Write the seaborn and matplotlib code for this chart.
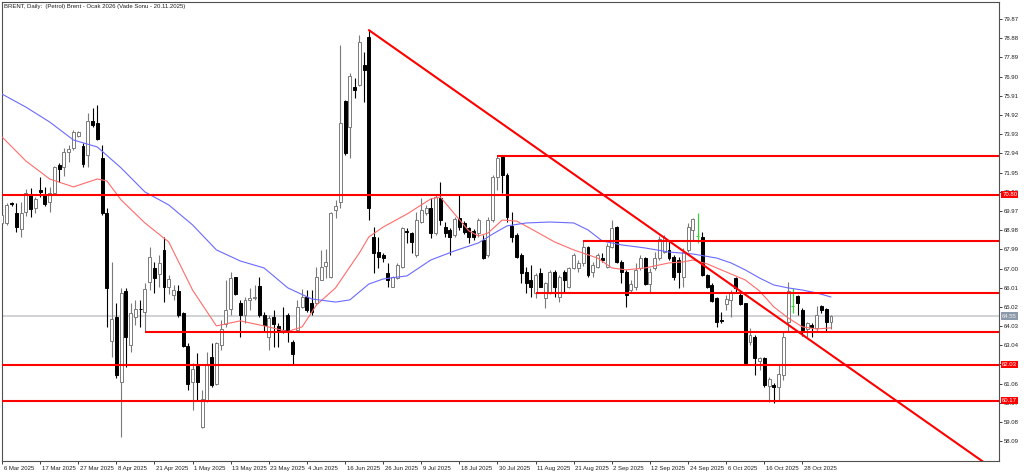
import matplotlib
matplotlib.use("Agg")
import matplotlib.pyplot as plt
import matplotlib.transforms as mtransforms
import numpy as np
import seaborn as sns

sns.set_theme(style="white")
plt.rcParams['font.family'] = ['Liberation Sans', 'DejaVu Sans']

# daily Brent candles, bar 0 = 6 Mar 2025
opens = [69.35, 69.35, 70.36, 69.87, 69.04, 69.92, 70.84, 70.12, 71.05, 70.84,
         70.43, 70.90, 72.34, 72.24, 73.01, 73.22, 73.84, 73.32, 72.86, 74.61,
         74.51, 72.70, 69.87, 63.26, 64.50, 61.15, 65.84, 63.06, 64.50, 64.93,
         64.76, 66.31, 67.03, 66.72, 67.96, 66.05, 65.63, 65.84, 64.71, 63.01,
         61.15, 61.97, 58.83, 60.22, 62.44, 61.05, 63.06, 64.14, 64.91, 66.56,
         65.22, 64.61, 65.40, 65.46, 66.10, 64.61, 63.47, 64.50, 64.04, 63.83,
         64.61, 63.21, 63.83, 65.02, 65.53, 65.22, 65.22, 66.41, 67.13, 66.56,
         70.02, 70.43, 75.64, 74.30, 76.38, 76.47, 77.50, 78.96, 68.64, 67.87,
         67.70, 66.77, 66.06, 66.51, 67.08, 68.92, 68.83, 67.70, 69.41, 69.87,
         70.12, 68.83, 70.64, 69.14, 68.99, 68.73, 69.61, 69.35, 69.09, 68.94,
         68.83, 68.47, 67.70, 69.50, 71.72, 72.75, 71.82, 69.19, 68.73, 67.70,
         66.82, 66.41, 65.74, 66.77, 65.48, 65.74, 66.82, 65.53, 66.82, 66.05,
         67.03, 67.03, 67.29, 68.11, 66.82, 67.08, 67.54, 67.08, 68.11, 69.14,
         67.34, 66.82, 65.89, 66.05, 67.03, 67.54, 66.20, 67.03, 67.54, 67.85,
         67.96, 67.60, 67.44, 66.56, 67.96, 68.99, 68.68, 68.63, 66.67, 66.15,
         65.48, 64.35, 65.17, 65.38, 66.51, 65.64, 65.22, 63.21, 63.47, 62.23,
         62.39, 60.94, 61.00, 60.89, 61.51, 64.24, 65.07, 65.58, 64.86, 63.88,
         64.09, 63.93, 65.07, 64.91, 64.24]
highs = [70.28, 70.38, 70.44, 70.38, 70.43, 71.10, 71.15, 70.69, 71.72, 71.21,
         71.21, 72.29, 72.44, 73.22, 73.37, 74.14, 74.09, 73.48, 75.02, 75.28,
         75.43, 73.37, 70.12, 67.34, 65.22, 66.00, 66.00, 65.22, 65.38, 65.38,
         66.26, 68.11, 67.34, 67.70, 68.63, 66.67, 66.15, 66.15, 64.76, 63.16,
         62.13, 62.64, 60.74, 62.70, 63.16, 63.21, 64.35, 66.41, 66.82, 66.56,
         65.38, 65.53, 65.99, 66.15, 66.56, 64.76, 64.61, 64.86, 64.19, 65.02,
         64.71, 63.32, 65.38, 65.95, 65.89, 65.89, 67.08, 67.96, 68.01, 69.92,
         70.54, 78.53, 75.69, 77.08, 76.83, 79.05, 78.18, 79.30, 69.16, 68.64,
         67.80, 67.29, 66.62, 67.29, 69.14, 69.09, 68.88, 69.92, 70.64, 70.28,
         70.64, 70.79, 71.46, 69.40, 69.09, 69.66, 70.79, 69.45, 69.14, 69.04,
         69.61, 68.73, 69.66, 71.82, 72.80, 72.80, 71.93, 69.92, 68.83, 67.80,
         67.08, 67.18, 66.77, 67.03, 66.31, 66.93, 66.93, 66.67, 66.93, 67.08,
         67.80, 67.44, 68.47, 68.16, 67.34, 67.80, 67.80, 68.32, 69.50, 69.19,
         67.44, 66.93, 66.41, 67.29, 67.70, 67.60, 67.03, 67.85, 68.68, 68.73,
         68.47, 67.70, 67.60, 68.06, 69.35, 69.61, 69.87, 68.88, 66.72, 66.26,
         65.53, 64.76, 65.64, 65.89, 66.56, 65.79, 65.22, 63.93, 63.57, 62.44,
         62.44, 61.41, 61.10, 62.03, 63.73, 66.31, 66.00, 65.64, 64.97, 64.24,
         64.19, 65.07, 65.12, 64.97, 64.61]
lows = [69.19, 69.25, 70.23, 68.88, 68.63, 69.71, 69.66, 69.87, 70.69, 70.23,
        69.92, 70.90, 71.46, 71.77, 72.49, 73.11, 73.78, 72.24, 72.24, 74.30,
        73.63, 69.76, 63.99, 62.44, 61.36, 58.31, 61.92, 62.70, 64.09, 63.99,
        63.73, 65.89, 65.74, 66.05, 65.27, 65.69, 65.38, 64.50, 62.95, 60.74,
        59.70, 60.22, 58.78, 60.12, 60.89, 61.00, 62.80, 63.99, 64.61, 65.64,
        63.47, 64.19, 64.86, 65.38, 64.50, 63.73, 62.80, 62.95, 62.95, 63.68,
        63.21, 62.03, 63.78, 64.97, 64.76, 64.61, 65.12, 66.41, 66.51, 66.51,
        69.61, 70.12, 72.86, 72.70, 75.80, 76.41, 75.60, 69.50, 66.77, 67.03,
        67.34, 66.05, 66.05, 66.46, 67.03, 68.32, 67.80, 67.60, 69.35, 69.76,
        68.58, 68.73, 69.25, 68.63, 67.70, 68.63, 68.99, 68.78, 68.32, 68.47,
        68.63, 67.49, 67.60, 69.40, 71.05, 70.90, 69.40, 68.37, 67.54, 66.26,
        65.74, 65.53, 65.48, 66.05, 64.97, 65.69, 65.53, 65.27, 65.79, 66.00,
        66.98, 66.82, 67.13, 66.56, 66.56, 67.03, 67.34, 67.03, 68.06, 67.29,
        66.26, 65.02, 65.74, 65.89, 66.93, 66.15, 65.74, 66.93, 67.44, 67.80,
        67.44, 66.41, 66.00, 66.05, 67.85, 68.47, 68.32, 66.62, 66.00, 65.27,
        63.99, 64.19, 64.86, 64.50, 65.74, 65.12, 62.08, 63.06, 61.51, 61.77,
        60.89, 60.12, 60.07, 60.22, 61.25, 63.78, 64.71, 64.61, 63.52, 63.47,
        63.47, 63.78, 64.71, 63.78, 63.88]
closes = [69.76, 70.28, 70.31, 69.14, 69.87, 70.90, 70.07, 70.59, 70.95, 70.33,
          70.90, 72.24, 72.14, 73.01, 73.17, 74.04, 74.04, 72.39, 74.61, 74.40,
          73.68, 69.87, 66.00, 64.40, 61.51, 65.74, 63.47, 64.71, 64.91, 64.89,
          65.95, 67.60, 66.51, 67.29, 66.05, 66.46, 65.89, 64.61, 63.01, 61.05,
          61.82, 61.15, 60.27, 62.03, 61.00, 63.16, 63.88, 64.86, 66.51, 65.69,
          64.61, 65.38, 65.46, 65.51, 64.61, 64.09, 64.45, 64.14, 63.78, 63.73,
          63.73, 62.59, 65.02, 65.53, 64.86, 64.76, 66.56, 67.08, 67.34, 69.87,
          70.23, 74.51, 72.96, 76.93, 76.21, 78.70, 77.24, 70.12, 67.79, 67.58,
          67.54, 66.41, 66.58, 67.18, 69.09, 68.87, 68.37, 69.50, 70.02, 70.12,
          68.83, 70.69, 69.50, 68.83, 68.63, 69.56, 69.14, 68.88, 68.63, 68.63,
          69.50, 67.54, 69.50, 71.72, 72.70, 71.82, 69.66, 68.63, 67.60, 66.77,
          66.26, 66.05, 66.67, 66.05, 66.26, 66.82, 66.05, 66.56, 66.41, 67.03,
          67.70, 67.29, 68.11, 66.67, 67.18, 67.70, 67.44, 68.16, 69.09, 67.34,
          66.82, 65.63, 66.20, 66.93, 67.54, 66.20, 66.82, 67.54, 68.52, 68.58,
          67.54, 66.56, 66.82, 67.85, 69.14, 69.56, 68.68, 66.67, 66.05, 65.33,
          64.24, 64.30, 65.43, 65.74, 66.00, 65.17, 62.13, 63.57, 62.39, 62.39,
          61.00, 61.30, 60.89, 61.56, 63.47, 65.84, 65.07, 65.22, 63.83, 64.19,
          63.99, 64.61, 64.86, 64.24, 64.55]

# moving averages at selected bars
fast_ma_bars = [0, 5, 10, 15, 20, 22, 25, 30, 35, 40, 45, 50, 55, 60, 63, 66, 70, 75, 77,
                80, 85, 90, 92, 95, 98, 100, 102, 105, 108, 110, 113, 116, 120, 125,
                128, 131, 135, 140, 143, 145, 148, 150, 153, 156, 159, 162, 165, 168,
                171, 174]
fast_ma = [73.79, 72.55, 71.62, 71.21, 71.62, 71.52, 70.54, 69.35, 68.37, 65.89, 64.04,
           64.30, 64.04, 63.75, 63.99, 65.12, 66.00, 67.80, 68.63, 69.14, 69.81, 70.59,
           70.69, 69.81, 68.94, 68.68, 68.83, 69.50, 69.45, 69.19, 68.78, 68.37, 67.96,
           67.54, 67.03, 66.93, 67.03, 67.29, 67.34, 67.44, 67.24, 67.03, 66.72, 66.41,
           65.84, 65.02, 64.45, 63.99, 63.88, 63.94]
slow_ma_bars = [0, 5, 10, 15, 20, 25, 30, 35, 40, 45, 50, 55, 60, 65, 70, 73, 77, 80, 85,
                90, 95, 100, 103, 106, 110, 115, 120, 123, 126, 130, 135, 140, 145, 150,
                153, 156, 159, 162, 165, 168, 171, 174]
slow_ma = [76.00, 75.33, 74.56, 73.63, 73.27, 72.19, 70.95, 70.28, 69.25, 67.96, 67.39,
           67.03, 66.00, 65.43, 65.27, 65.38, 66.20, 66.46, 66.62, 67.44, 67.91, 68.32,
           68.78, 69.20, 69.35, 69.40, 69.35, 68.99, 68.42, 68.22, 68.06, 67.85, 67.75,
           67.54, 67.29, 66.93, 66.51, 66.15, 66.00, 65.89, 65.74, 65.53]

# horizontal levels and the bar where each one starts
levels = [72.80, 70.80, 68.44, 65.72, 63.74, 62.03, 60.17]
level_start = [104, 0, 122, 112, 30, 0, 0]
tagged_levels = [70.80, 62.03, 60.17]
last_price = 64.55
trend_bars = [77, 206]
trend_prices = [79.30, 57.02]

price_ticks = [79.87, 78.88, 77.89, 76.90, 75.91, 74.92, 73.93, 72.94, 71.95, 70.96,
               69.97, 68.98, 67.99, 67.00, 66.01, 65.02, 64.03, 63.04, 62.05, 61.06,
               60.07, 59.08, 58.09]
date_bars = [0, 8, 16, 24, 32, 40, 48, 56, 64, 72, 80, 88, 96, 104, 112, 120, 128, 136,
             144, 152, 160, 168]
date_labels = ["6 Mar 2025", "17 Mar 2025", "27 Mar 2025", "8 Apr 2025", "21 Apr 2025",
               "1 May 2025", "13 May 2025", "23 May 2025", "4 Jun 2025", "16 Jun 2025",
               "26 Jun 2025", "9 Jul 2025", "18 Jul 2025", "30 Jul 2025", "11 Aug 2025",
               "21 Aug 2025", "2 Sep 2025", "12 Sep 2025", "24 Sep 2025", "6 Oct 2025",
               "16 Oct 2025", "28 Oct 2025"]

title = "BRENT, Daily:  (Petrol) Brent - Ocak 2026 (Vade Sonu - 20.11.2025)"

W, H = 1024, 474
fig = plt.figure(figsize=(W / 100, H / 100), dpi=100)
ax = fig.add_axes([2 / W, 13 / H, 996.7 / W, 459 / H])

o = np.array(opens)
h = np.array(highs)
l = np.array(lows)
c = np.array(closes)
x = np.arange(len(o))
up = c > o
down = c < o
doji = c == o

# current price line
ax.axhline(last_price, color="#c4c6cc", lw=1.1, zorder=1)

# wicks
ax.vlines(x[up], l[up], h[up], color="#7a7a7a", lw=0.8, zorder=2)
ax.vlines(x[down], l[down], h[down], color="black", lw=0.8, zorder=2)
ax.vlines(x[doji], l[doji], h[doji], color="#22dd22", lw=0.8, zorder=2)
ax.hlines(o[doji], x[doji] - 0.3, x[doji] + 0.3, color="#22dd22", lw=0.8, zorder=2)

# bodies
ax.bar(x[up], c[up] - o[up], bottom=o[up], width=0.62, facecolor="white",
       edgecolor="#7a7a7a", linewidth=0.7, zorder=3)
ax.bar(x[down], np.maximum(o[down] - c[down], 0.04), bottom=c[down], width=0.62,
       facecolor="black", edgecolor="black", linewidth=0.7, zorder=3)

# moving averages
sns.lineplot(x=fast_ma_bars, y=fast_ma, ax=ax, color="#ff6b6b", linewidth=0.8, zorder=4)
sns.lineplot(x=slow_ma_bars, y=slow_ma, ax=ax, color="#6a6aff", linewidth=0.8, zorder=4)

xmax = 209.2
ax.hlines(levels, level_start, xmax, colors="#ff0000", lw=1.5, zorder=5)
ax.plot(trend_bars, trend_prices, color="#ff0000", lw=1.5, zorder=5)

ax.set_xlim(0.21, xmax)
ax.set_ylim(57.07, 80.75)

for s in ax.spines.values():
    s.set_color("#505050")
    s.set_linewidth(0.8)

ax.yaxis.tick_right()
ax.set_yticks(price_ticks)
ax.set_yticklabels([f"{v:.2f}" for v in price_ticks])
ax.tick_params(axis="y", direction="out", length=2.5, width=0.6, pad=1,
               labelsize=4.3, colors="#202020", right=True, left=False)
ax.set_xticks(date_bars)
ax.set_xticklabels(date_labels)
ax.tick_params(axis="x", direction="out", length=2.5, width=0.6, pad=1,
               labelsize=4.3, colors="#202020", bottom=True)
shift = mtransforms.ScaledTranslation(1.5 / 100, 0, fig.dpi_scale_trans)
for lab in ax.get_xticklabels():
    lab.set_ha("left")
    lab.set_transform(lab.get_transform() + shift)
ax.set_xlabel("")
ax.set_ylabel("")
ax.grid(False)

blend = mtransforms.blended_transform_factory(ax.transAxes, ax.transData)
for lv in tagged_levels:
    ax.text(1.0035, lv, f"{lv:.2f}", transform=blend, fontsize=4.3, color="white",
            ha="left", va="center", zorder=10, clip_on=False,
            bbox=dict(boxstyle="square,pad=0.18", fc="#ff0000", ec="none"))
ax.text(1.0035, last_price, f"{last_price:.2f}", transform=blend, fontsize=4.3,
        color="#f0f0f0", ha="left", va="center", zorder=10, clip_on=False,
        bbox=dict(boxstyle="square,pad=0.18", fc="#8b99aa", ec="none"))

fig.text(4 / W, 1 - 6.5 / H, title, fontsize=4.3, color="#202020", ha="left", va="center")

fig.savefig("out.png", dpi=100)
